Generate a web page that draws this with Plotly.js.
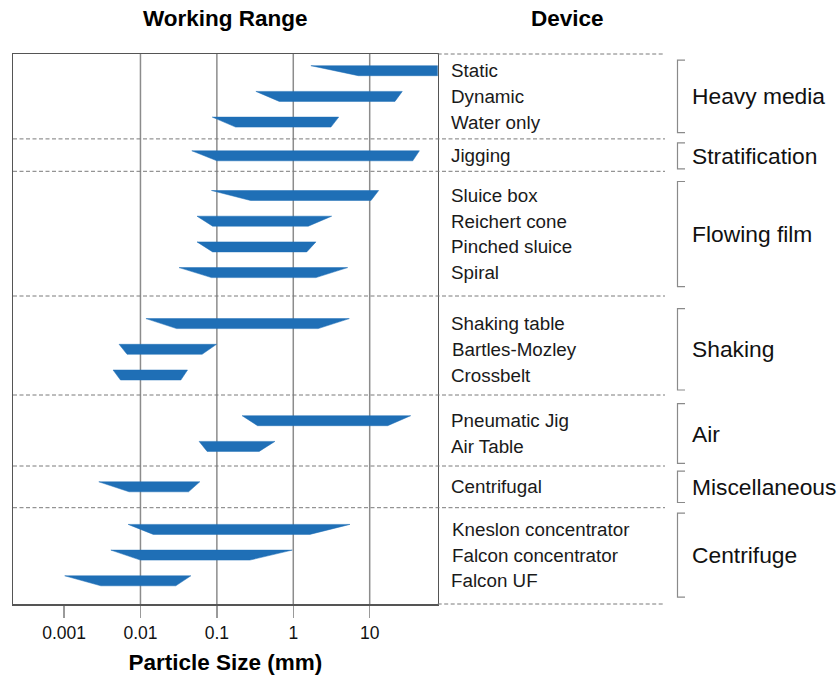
<!DOCTYPE html>
<html>
<head>
<meta charset="utf-8">
<script src="https://cdn.plot.ly/plotly-3.0.1.min.js"></script>
<style>html,body{margin:0;padding:0;background:#fff;}#chart{width:838px;height:680px;}</style>
</head>
<body>
<div id="chart"></div>
<script>
// ---------- DATA ----------
const devices = ["Static","Dynamic","Water only","Jigging","Sluice box","Reichert cone","Pinched sluice","Spiral",
  "Shaking table","Bartles-Mozley","Crossbelt","Pneumatic Jig","Air Table","Centrifugal",
  "Kneslon concentrator","Falcon concentrator","Falcon UF"];
const deviceGroup = [0,0,0,1,2,2,2,2,3,3,3,4,4,5,6,6,6];
const groups = ["Heavy media","Stratification","Flowing film","Shaking","Air","Miscellaneous","Centrifuge"];
// working range in mm: outer (wide, upper edge) and inner (narrow, lower edge) limits
const outerMin = [1.70, 0.324, 0.087, 0.047, 0.085, 0.055, 0.055, 0.032, 0.0118, 0.00525, 0.00438, 0.214, 0.0586, 0.00285, 0.0069, 0.0041, 0.00102];
const innerMin = [7.1, 0.655, 0.176, 0.100, 0.276, 0.088, 0.088, 0.085, 0.0297, 0.00668, 0.00548, 0.341, 0.0746, 0.0071, 0.0147, 0.0100, 0.00303];
const innerMax = [100, 21.4, 3.11, 36.6, 10.4, 1.57, 1.50, 1.98, 2.12, 0.0641, 0.0338, 17.2, 0.358, 0.0426, 1.65, 0.27, 0.029];
const outerMax = [100, 26.7, 3.93, 44.7, 13.1, 3.18, 1.98, 5.15, 5.41, 0.099, 0.0413, 34.4, 0.575, 0.0598, 5.52, 0.97, 0.0457];
const tickVals = [0.001, 0.01, 0.1, 1, 10];
const tickText = ["0.001", "0.01", "0.1", "1", "10"];

// ---------- LAYOUT CONSTANTS ----------
const FONT = "Liberation Sans, Arial, Helvetica, sans-serif";
const BLUE = "#1f6fb6";
const W = 838, H = 680, ML = 13, MR = 0, MT = 54, MB = 76;
const plotRightPx = 437.7;
const px2paper = p => (p - ML) / (W - ML - MR);
const firstRow = 70.7, rowStep = 25.7, halfBar = 5;
const groupGap = [0, 8, 14, 25.3, 20, 14.7, 16.9];
const sepOffset = [16.8, 15.5, 23.4, 20, 19.6, 20.9];
const bracketPad = [10.5, 13, 14, 15, 17, 15.7, 16.3];

// row positions
const rowY = [];
let yy = firstRow;
for (let i = 0; i < devices.length; i++) {
  if (i > 0) {
    yy += rowStep;
    if (deviceGroup[i] !== deviceGroup[i-1]) yy += groupGap[deviceGroup[i]];
  }
  rowY.push(yy);
}

// traces: one trapezoid per device
const traces = devices.map((d, i) => ({
  type: "scatter", mode: "lines", fill: "toself", fillcolor: BLUE,
  line: {color: BLUE, width: 0.5},
  x: [outerMin[i], outerMax[i], innerMax[i], innerMin[i], outerMin[i]],
  y: [rowY[i]-halfBar, rowY[i]-halfBar, rowY[i]+halfBar, rowY[i]+halfBar, rowY[i]-halfBar],
  hoverinfo: "text", text: d, showlegend: false
}));

const shapes = [];
const annotations = [];
// vertical grid lines (decades, inside plot)
tickVals.slice(1).forEach(v => shapes.push({type:"line", xref:"x", yref:"paper", x0:v, x1:v, y0:0, y1:1,
  line:{color:"#8c8c8c", width:1.5}, layer:"below"}));

const dashEnd = px2paper(665);
const dashStyle = {color:"#7a7a7a", width:1, dash:"4px,2.5px"};
// top and bottom dashed extensions
shapes.push({type:"line", xref:"paper", yref:"paper", x0:px2paper(plotRightPx), x1:dashEnd, y0:1, y1:1, line:dashStyle});
shapes.push({type:"line", xref:"paper", yref:"paper", x0:px2paper(plotRightPx), x1:dashEnd, y0:0, y1:0, line:dashStyle});

// group separators, brackets, labels
const bx = px2paper(677.5), bx2 = px2paper(685);
for (let g = 0; g < groups.length; g++) {
  const idx = deviceGroup.map((v, i) => v === g ? i : -1).filter(i => i >= 0);
  const yFirst = rowY[idx[0]], yLast = rowY[idx[idx.length-1]];
  if (g < groups.length - 1) {
    const sy = yLast + sepOffset[g];
    shapes.push({type:"line", xref:"paper", yref:"y", x0:0, x1:dashEnd, y0:sy, y1:sy, line:dashStyle});
  }
  const y0 = yFirst - bracketPad[g], y1 = yLast + bracketPad[g];
  shapes.push({type:"path", xref:"paper", yref:"y",
    path:`M ${bx2},${y0} L ${bx},${y0} L ${bx},${y1} L ${bx2},${y1}`,
    line:{color:"#8a8a8a", width:1.2}});
  annotations.push({xref:"paper", yref:"y", x:px2paper(690), y:(yFirst + yLast)/2, xanchor:"left", yanchor:"middle",
    text:groups[g], showarrow:false, font:{family:FONT, size:22.8, color:"#111"}});
}
// device labels
devices.forEach((d, i) => annotations.push({xref:"paper", yref:"y", x:px2paper(449.5), y:rowY[i],
  xanchor:"left", yanchor:"middle", text:d, showarrow:false, font:{family:FONT, size:18.8, color:"#1a1a1a"}}));
// column headers
const headY = (H - MB - 18) / (H - MT - MB);
annotations.push({xref:"paper", yref:"paper", x:px2paper(225.5), y:headY, xanchor:"center", yanchor:"middle",
  text:"Working Range", showarrow:false, font:{family:FONT, size:22.5, color:"#000", weight:"bold"}});
annotations.push({xref:"paper", yref:"paper", x:px2paper(567), y:headY, xanchor:"center", yanchor:"middle",
  text:"Device", showarrow:false, font:{family:FONT, size:22.5, color:"#000", weight:"bold"}});

const layout = {
  width: W, height: H,
  margin: {l:ML, r:MR, t:MT, b:MB, pad:0},
  paper_bgcolor: "#fff", plot_bgcolor: "#fff",
  font: {family: FONT, color: "#111"},
  xaxis: {
    type: "log", range: [-3.668, 1.89], domain: [0, px2paper(plotRightPx)],
    tickmode: "array", tickvals: tickVals, ticktext: tickText,
    ticks: "outside", ticklen: 12, tickwidth: 1.5, tickcolor: "#9a9a9a",
    tickfont: {family: FONT, size: 17.5, color: "#111"},
    showgrid: false, zeroline: false,
    showline: true, mirror: true, linecolor: "#555", linewidth: 1.5,
    title: {text: "Particle Size (mm)", font: {family: FONT, size: 22.5, color: "#000", weight: "bold"}, standoff: 12},
    fixedrange: true
  },
  yaxis: {
    range: [604, 54], showticklabels: false, ticks: "", showgrid: false, zeroline: false,
    showline: true, mirror: true, linecolor: "#555", linewidth: 1.5, fixedrange: true
  },
  shapes: shapes,
  annotations: annotations,
  showlegend: false
};

Plotly.newPlot("chart", traces, layout, {displayModeBar: false, staticPlot: true});
</script>
</body>
</html>
